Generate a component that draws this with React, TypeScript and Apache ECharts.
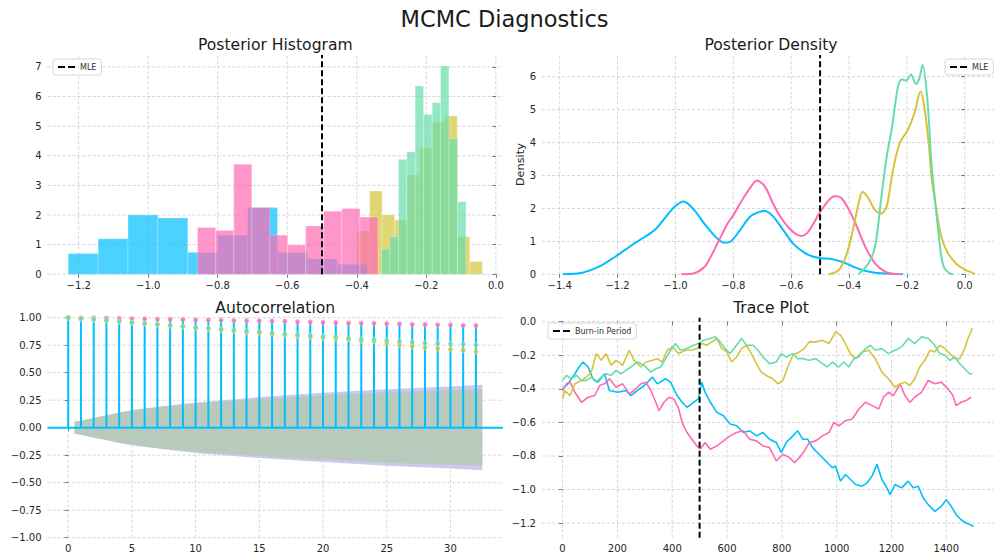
import React, { useEffect, useRef } from "react";
import * as echarts from "echarts";

// ---------------- DATA ----------------
// Posterior histogram (density-normalised), 10 bins per chain
const histBlueEdges = [-1.23, -1.144, -1.058, -0.972, -0.886, -0.8, -0.714, -0.628, -0.542, -0.456, -0.37];
const histBlueHeights = [0.7, 1.2, 2.0, 1.9, 0.74, 1.32, 2.25, 0.74, 0.52, 0.34];
const histPinkEdges = [-0.858, -0.806, -0.754, -0.702, -0.65, -0.599, -0.547, -0.495, -0.443, -0.391, -0.339];
const histPinkHeights = [1.58, 1.48, 3.71, 2.25, 1.32, 0.99, 1.63, 2.13, 2.22, 1.93];
const histYellowEdges = [-0.399, -0.363, -0.327, -0.291, -0.255, -0.219, -0.183, -0.147, -0.111, -0.075, -0.039];
const histYellowHeights = [1.46, 2.81, 2.0, 1.83, 3.35, 4.25, 5.14, 5.34, 1.27, 0.43];
const histGreenEdges = [-0.329, -0.305, -0.28, -0.256, -0.232, -0.208, -0.183, -0.159, -0.135, -0.11, -0.086];
const histGreenHeights = [0.85, 1.27, 3.88, 4.13, 6.35, 5.39, 5.79, 7.03, 4.58, 2.45];

// Posterior density (KDE) curves, [x, density]
const densBlue: [number, number][] = [
  [-1.389, 0], [-1.321, 0.05], [-1.264, 0.23], [-1.207, 0.54], [-1.15, 0.89], [-1.105, 1.14],
  [-1.071, 1.35], [-1.037, 1.7], [-1.003, 2.05], [-0.971, 2.21], [-0.935, 1.95], [-0.901, 1.55],
  [-0.867, 1.19], [-0.832, 0.96], [-0.81, 0.99], [-0.776, 1.35], [-0.742, 1.75], [-0.708, 1.9],
  [-0.691, 1.92], [-0.662, 1.75], [-0.628, 1.35], [-0.594, 0.94], [-0.56, 0.69], [-0.526, 0.54],
  [-0.492, 0.49], [-0.458, 0.46], [-0.424, 0.38], [-0.39, 0.25], [-0.356, 0.13], [-0.31, 0.05],
  [-0.242, 0.01], [-0.214, 0],
];
const densPink: [number, number][] = [
  [-0.98, 0], [-0.935, 0.03], [-0.9, 0.22], [-0.878, 0.53], [-0.849, 1.04], [-0.821, 1.52],
  [-0.798, 1.82], [-0.776, 2.16], [-0.742, 2.62], [-0.719, 2.85], [-0.691, 2.67], [-0.663, 2.16],
  [-0.634, 1.7], [-0.606, 1.39], [-0.583, 1.22], [-0.566, 1.16], [-0.545, 1.25], [-0.522, 1.55],
  [-0.503, 1.85], [-0.469, 2.26], [-0.447, 2.38], [-0.425, 2.3], [-0.4, 1.95], [-0.378, 1.55],
  [-0.344, 0.84], [-0.31, 0.33], [-0.276, 0.08], [-0.242, 0.01], [-0.22, 0],
];
const densYellow: [number, number][] = [
  [-0.469, 0], [-0.435, 0.13], [-0.407, 0.64], [-0.384, 1.45], [-0.367, 2.16], [-0.353, 2.51],
  [-0.333, 2.31], [-0.31, 1.95], [-0.288, 1.85], [-0.27, 2.05], [-0.248, 3.17], [-0.225, 3.98],
  [-0.197, 4.38], [-0.174, 4.89], [-0.153, 5.55], [-0.14, 5.1], [-0.125, 4.0], [-0.115, 2.96],
  [-0.098, 1.95], [-0.081, 1.14], [-0.058, 0.64], [-0.03, 0.33], [-0.002, 0.15], [0.026, 0.05], [0.035, 0],
];
const densGreen: [number, number][] = [
  [-0.367, 0], [-0.333, 0.33], [-0.31, 0.84], [-0.288, 2.36], [-0.27, 3.57], [-0.253, 4.38],
  [-0.24, 5.2], [-0.228, 5.8], [-0.217, 5.92], [-0.203, 5.88], [-0.186, 6.07], [-0.169, 5.78],
  [-0.157, 5.95], [-0.146, 6.36], [-0.13, 5.4], [-0.115, 3.37], [-0.104, 2.36], [-0.092, 1.35],
  [-0.081, 0.54], [-0.07, 0.18], [-0.052, 0.03], [-0.04, 0],
];

// Autocorrelation
const acfLags = [0, 1, 2, 3, 4, 5, 6, 7, 8, 9, 10, 11, 12, 13, 14, 15, 16, 17, 18, 19, 20, 21, 22, 23, 24, 25, 26, 27, 28, 29, 30, 31, 32];
const acfPink = [1.0, 0.999, 0.998, 0.996, 0.994, 0.991, 0.99, 0.986, 0.985, 0.984, 0.981, 0.979, 0.978, 0.975, 0.974, 0.973, 0.97, 0.968, 0.964, 0.962, 0.958, 0.957, 0.952, 0.951, 0.95, 0.946, 0.945, 0.94, 0.939, 0.936, 0.935, 0.93, 0.929];
const acfGreen = [1.0, 0.99, 0.985, 0.976, 0.969, 0.958, 0.949, 0.94, 0.931, 0.921, 0.911, 0.905, 0.896, 0.887, 0.879, 0.871, 0.862, 0.854, 0.846, 0.837, 0.83, 0.826, 0.814, 0.805, 0.799, 0.793, 0.784, 0.778, 0.771, 0.768, 0.762, 0.759, 0.753];
const acfYellow = [1.0, 0.989, 0.982, 0.972, 0.964, 0.954, 0.945, 0.936, 0.926, 0.916, 0.906, 0.898, 0.888, 0.879, 0.869, 0.861, 0.851, 0.842, 0.834, 0.825, 0.817, 0.808, 0.802, 0.787, 0.784, 0.771, 0.752, 0.741, 0.728, 0.72, 0.71, 0.704, 0.692];
const bandLags = [0.5, 1, 2, 3, 4, 5, 7, 10, 15, 20, 25, 30, 32.5];
const bandInnerUpper = [0.055, 0.062, 0.088, 0.11, 0.135, 0.155, 0.185, 0.22, 0.26, 0.293, 0.322, 0.34, 0.35];
const bandInnerLower = [-0.055, -0.062, -0.088, -0.11, -0.135, -0.155, -0.185, -0.22, -0.258, -0.29, -0.318, -0.336, -0.344];
const bandOuterUpper = [0.056, 0.063, 0.09, 0.113, 0.138, 0.16, 0.19, 0.23, 0.278, 0.318, 0.35, 0.375, 0.39];
const bandOuterLower = [-0.056, -0.063, -0.09, -0.113, -0.138, -0.16, -0.19, -0.23, -0.276, -0.312, -0.345, -0.372, -0.387];

// Trace plot, [iteration, value]
const traceBlue: [number, number][] = [
  [0, -0.4], [20, -0.37], [45, -0.31], [60, -0.27], [75, -0.24], [93, -0.27], [111, -0.34], [129, -0.36],
  [153, -0.31], [171, -0.41], [201, -0.42], [231, -0.41], [249, -0.44], [273, -0.41], [298, -0.38],
  [328, -0.33], [346, -0.37], [376, -0.34], [394, -0.36], [418, -0.44], [436, -0.48], [454, -0.51],
  [478, -0.48], [496, -0.46], [508, -0.36], [520, -0.42], [539, -0.48], [563, -0.54], [587, -0.56],
  [611, -0.61], [635, -0.62], [659, -0.66], [683, -0.65], [707, -0.68], [731, -0.66], [755, -0.7],
  [780, -0.72], [798, -0.78], [816, -0.72], [840, -0.68], [858, -0.65], [876, -0.7], [894, -0.7],
  [912, -0.75], [936, -0.79], [960, -0.83], [984, -0.87], [996, -0.86], [1014, -0.95], [1032, -0.91],
  [1044, -0.93], [1069, -0.97], [1093, -0.98], [1111, -0.96], [1129, -0.92], [1147, -0.85], [1165, -0.94],
  [1183, -0.99], [1195, -1.03], [1213, -0.97], [1237, -0.99], [1261, -0.95], [1279, -0.99], [1297, -0.98],
  [1316, -1.05], [1334, -1.09], [1358, -1.13], [1382, -1.1], [1400, -1.06], [1418, -1.1], [1436, -1.15],
  [1454, -1.18], [1472, -1.2], [1488, -1.21], [1499, -1.22],
];
const tracePink: [number, number][] = [
  [0, -0.41], [14, -0.37], [27, -0.36], [45, -0.42], [69, -0.48], [93, -0.45], [117, -0.44], [135, -0.38],
  [153, -0.37], [171, -0.34], [195, -0.39], [219, -0.37], [243, -0.43], [261, -0.41], [286, -0.37],
  [304, -0.36], [322, -0.41], [340, -0.48], [352, -0.53], [370, -0.48], [388, -0.45], [406, -0.46],
  [424, -0.52], [436, -0.6], [454, -0.66], [472, -0.7], [490, -0.74], [502, -0.76], [520, -0.72],
  [539, -0.76], [563, -0.74], [587, -0.71], [611, -0.68], [635, -0.66], [659, -0.65], [683, -0.7],
  [707, -0.71], [731, -0.74], [755, -0.75], [780, -0.83], [804, -0.79], [828, -0.81], [846, -0.84],
  [864, -0.81], [882, -0.77], [900, -0.72], [924, -0.71], [948, -0.68], [972, -0.66], [990, -0.6],
  [1008, -0.62], [1032, -0.59], [1057, -0.58], [1081, -0.52], [1105, -0.48], [1129, -0.5], [1153, -0.52],
  [1171, -0.45], [1189, -0.42], [1207, -0.44], [1231, -0.37], [1249, -0.44], [1267, -0.48], [1285, -0.45],
  [1310, -0.42], [1334, -0.35], [1358, -0.37], [1382, -0.36], [1406, -0.4], [1424, -0.44], [1436, -0.5],
  [1454, -0.48], [1472, -0.47], [1490, -0.45],
];
const traceYellow: [number, number][] = [
  [0, -0.46], [8, -0.41], [27, -0.44], [45, -0.37], [69, -0.35], [87, -0.33], [105, -0.3], [123, -0.19],
  [141, -0.23], [159, -0.19], [177, -0.26], [195, -0.23], [219, -0.26], [243, -0.17], [261, -0.23],
  [286, -0.27], [304, -0.24], [328, -0.23], [346, -0.22], [364, -0.24], [382, -0.17], [400, -0.15],
  [424, -0.19], [448, -0.17], [472, -0.17], [490, -0.16], [508, -0.13], [526, -0.14], [545, -0.12],
  [563, -0.1], [581, -0.16], [599, -0.18], [617, -0.24], [635, -0.21], [653, -0.16], [671, -0.14],
  [689, -0.19], [707, -0.25], [725, -0.3], [743, -0.32], [767, -0.34], [786, -0.37], [804, -0.35],
  [822, -0.27], [840, -0.2], [864, -0.18], [882, -0.16], [900, -0.12], [924, -0.12], [948, -0.11],
  [972, -0.13], [996, -0.06], [1014, -0.08], [1032, -0.13], [1050, -0.19], [1069, -0.22], [1093, -0.18],
  [1117, -0.17], [1141, -0.22], [1165, -0.3], [1189, -0.34], [1213, -0.39], [1231, -0.37], [1249, -0.36],
  [1267, -0.38], [1285, -0.34], [1303, -0.27], [1322, -0.23], [1340, -0.17], [1358, -0.18], [1376, -0.14],
  [1395, -0.16], [1413, -0.19], [1431, -0.22], [1449, -0.22], [1467, -0.16], [1479, -0.1], [1495, -0.04],
];
const traceGreen: [number, number][] = [
  [0, -0.35], [14, -0.32], [33, -0.34], [51, -0.32], [69, -0.35], [87, -0.35], [105, -0.33], [123, -0.36],
  [141, -0.33], [159, -0.31], [177, -0.32], [195, -0.29], [213, -0.31], [231, -0.29], [249, -0.27],
  [273, -0.24], [298, -0.26], [322, -0.3], [340, -0.28], [358, -0.27], [376, -0.22], [394, -0.17],
  [412, -0.13], [430, -0.17], [454, -0.16], [478, -0.14], [496, -0.13], [514, -0.11], [539, -0.1],
  [557, -0.09], [575, -0.12], [593, -0.16], [611, -0.19], [635, -0.14], [653, -0.1], [671, -0.14],
  [695, -0.14], [713, -0.17], [731, -0.21], [755, -0.25], [780, -0.24], [798, -0.19], [816, -0.21],
  [840, -0.19], [858, -0.22], [876, -0.22], [900, -0.23], [924, -0.22], [948, -0.25], [966, -0.27],
  [984, -0.24], [1008, -0.27], [1026, -0.24], [1044, -0.27], [1063, -0.22], [1081, -0.21], [1105, -0.16],
  [1123, -0.14], [1141, -0.17], [1165, -0.16], [1189, -0.19], [1213, -0.17], [1237, -0.15], [1261, -0.1],
  [1285, -0.13], [1310, -0.09], [1334, -0.1], [1358, -0.14], [1376, -0.19], [1395, -0.2], [1413, -0.23],
  [1431, -0.21], [1449, -0.25], [1467, -0.28], [1485, -0.31], [1495, -0.31],
];

const mleValue = -0.5;
const burnIn = 500;

// Tick values
const histXTicks = [-1.2, -1.0, -0.8, -0.6, -0.4, -0.2, 0.0];
const histYTicks = [0, 1, 2, 3, 4, 5, 6, 7];
const densXTicks = [-1.4, -1.2, -1.0, -0.8, -0.6, -0.4, -0.2, 0.0];
const densYTicks = [0, 1, 2, 3, 4, 5, 6];
const acfXTicks = [0, 5, 10, 15, 20, 25, 30];
const acfYTicks = [-1.0, -0.75, -0.5, -0.25, 0.0, 0.25, 0.5, 0.75, 1.0];
const traceXTicks = [0, 200, 400, 600, 800, 1000, 1200, 1400];
const traceYTicks = [-1.2, -1.0, -0.8, -0.6, -0.4, -0.2, 0.0];

// Axis limits
const histX = [-1.2896, 0.0206];
const histY = [0, 7.4];
const densX = [-1.461, 0.101];
const densY = [0, 6.66];
const acfX = [-1.625, 34.125];
const acfY = [-1.0, 1.0];
const traceX = [-75, 1574];
const traceY = [-1.287, 0.024];

// ---------------- STYLE ----------------
const FONT = "DejaVu Sans";
const BLUE = "#00BFFF";
const PINK = "#FF69B4";
const YELLOW = "#D4C43C";
const GREEN = "#66DDAA";
const TEXT = "#262626";

const mfmt = (d: number) => (v: number) => {
  const s = Math.abs(v) < 1e-9 ? (0).toFixed(d) : v.toFixed(d);
  return s.replace("-", "\u2212");
};

function xAxis(g: number, lim: number[], ticks: number[], fmt: (v: number) => string) {
  return {
    type: "value",
    gridIndex: g,
    min: lim[0],
    max: lim[1],
    axisLine: { show: false },
    axisTick: { show: true, customValues: ticks, length: 3.5, lineStyle: { color: "#555", width: 0.8 } },
    axisLabel: { customValues: ticks, formatter: fmt, margin: 6, fontSize: 10, color: TEXT, fontFamily: FONT },
    splitLine: { show: false },
  };
}
function yAxis(g: number, lim: number[], ticks: number[], fmt: (v: number) => string, extra: any = {}) {
  return {
    type: "value",
    gridIndex: g,
    min: lim[0],
    max: lim[1],
    axisLine: { show: false },
    axisTick: { show: true, customValues: ticks, length: 3.5, lineStyle: { color: "#555", width: 0.8 } },
    axisLabel: { customValues: ticks, formatter: fmt, margin: 6, fontSize: 10, color: TEXT, fontFamily: FONT },
    splitLine: { show: false },
    ...extra,
  };
}

const GRID_STYLE = { stroke: "#cccccc", lineWidth: 0.8, lineDash: [3, 2] };

function gridSeries(g: number, xt: number[], yt: number[], xl: number[], yl: number[]) {
  return [
    {
      type: "custom",
      xAxisIndex: g,
      yAxisIndex: g,
      silent: true,
      z: 0,
      data: xt.map((v) => [v, yl[0]]),
      renderItem: (_p: any, api: any) => {
        const a = api.coord([api.value(0), yl[0]]);
        const b = api.coord([api.value(0), yl[1]]);
        return { type: "line", shape: { x1: a[0], y1: a[1], x2: b[0], y2: b[1] }, style: GRID_STYLE };
      },
    },
    {
      type: "custom",
      xAxisIndex: g,
      yAxisIndex: g,
      silent: true,
      z: 0,
      data: yt.map((v) => [xl[0], v]),
      renderItem: (_p: any, api: any) => {
        const a = api.coord([xl[0], api.value(1)]);
        const b = api.coord([xl[1], api.value(1)]);
        return { type: "line", shape: { x1: a[0], y1: a[1], x2: b[0], y2: b[1] }, style: GRID_STYLE };
      },
    },
  ];
}

function histSeries(edges: number[], heights: number[], color: string, z: number) {
  return {
    type: "custom",
    xAxisIndex: 0,
    yAxisIndex: 0,
    z,
    silent: true,
    data: heights.map((h, i) => [edges[i], edges[i + 1], h]),
    encode: { x: [0, 1], y: 2 },
    renderItem: (_p: any, api: any) => {
      const a = api.coord([api.value(0), api.value(2)]);
      const b = api.coord([api.value(1), 0]);
      return {
        type: "rect",
        shape: { x: a[0], y: a[1], width: b[0] - a[0], height: b[1] - a[1] },
        style: { fill: color, opacity: 0.7, stroke: "rgba(255,255,255,0.7)", lineWidth: 0.5 },
      };
    },
  };
}

function bandSeries(upper: number[], lower: number[], color: string, z: number) {
  return {
    type: "custom",
    xAxisIndex: 2,
    yAxisIndex: 2,
    silent: true,
    z,
    data: [[bandLags[0], 0]],
    renderItem: (_p: any, api: any) => {
      const pts: number[][] = [];
      for (let i = 0; i < bandLags.length; i++) pts.push(api.coord([bandLags[i], upper[i]]));
      for (let i = bandLags.length - 1; i >= 0; i--) pts.push(api.coord([bandLags[i], lower[i]]));
      return { type: "polygon", shape: { points: pts }, style: { fill: color } };
    },
  };
}

function densSeries(data: [number, number][], color: string) {
  return {
    type: "line",
    xAxisIndex: 1,
    yAxisIndex: 1,
    data,
    smooth: 0.3,
    symbol: "none",
    lineStyle: { color, width: 2 },
    itemStyle: { color },
    z: 3,
  };
}

function traceSeries(data: [number, number][], color: string) {
  return {
    type: "line",
    xAxisIndex: 3,
    yAxisIndex: 3,
    data,
    symbol: "none",
    lineStyle: { color, width: 1.6 },
    itemStyle: { color },
    z: 3,
  };
}

function acfMarkers(vals: number[], color: string, z: number) {
  return {
    type: "scatter",
    xAxisIndex: 2,
    yAxisIndex: 2,
    data: acfLags.map((l, i) => [l, vals[i]]),
    symbolSize: 5,
    itemStyle: { color, borderColor: "rgba(255,255,255,0.6)", borderWidth: 0.5 },
    z,
  };
}

const DASH_ICON = "path://M0,0h7v2h-7z M10,0h7v2h-7z";
function legendOpt(name: string, left: number, top: number) {
  return {
    data: [name],
    left,
    top,
    orient: "horizontal",
    icon: DASH_ICON,
    itemWidth: 17,
    itemHeight: 2,
    padding: [4, 5, 4, 5],
    borderColor: "#d6d6d6",
    borderWidth: 1,
    borderRadius: 3,
    backgroundColor: "rgba(255,255,255,0.85)",
    selectedMode: false,
    textStyle: { fontSize: 8, color: "#333", fontFamily: FONT },
  };
}

function vline(name: string, g: number, x: number, yl: number[]) {
  return {
    type: "line",
    name,
    xAxisIndex: g,
    yAxisIndex: g,
    data: [[x, yl[0]], [x, yl[1]]],
    symbol: "none",
    lineStyle: { color: "#000", width: 2, type: [6, 3] },
    itemStyle: { color: "#000" },
    z: 10,
  };
}

function titleText(text: string, x: number, y: number, size: number) {
  return {
    type: "text",
    x,
    y,
    silent: true,
    style: {
      text,
      fill: "#1a1a1a",
      fontSize: size,
      fontFamily: FONT,
      align: "center",
      verticalAlign: "middle",
      textAlign: "center",
      textVerticalAlign: "middle",
    },
  };
}

export default function App() {
  const ref = useRef<HTMLDivElement>(null);
  useEffect(() => {
    if (!ref.current) return;
    const chart = echarts.init(ref.current, undefined, { renderer: "svg" });
    const option: any = {
      animation: false,
      textStyle: { fontFamily: FONT },
      grid: [
        { left: 47.5, top: 55, width: 455.5, height: 219.3 },
        { left: 542, top: 55, width: 459, height: 219.3 },
        { left: 47.5, top: 317.7, width: 455.5, height: 220 },
        { left: 542, top: 317.7, width: 459, height: 220 },
      ],
      xAxis: [
        xAxis(0, histX, histXTicks, mfmt(1)),
        xAxis(1, densX, densXTicks, mfmt(1)),
        xAxis(2, acfX, acfXTicks, mfmt(0)),
        xAxis(3, traceX, traceXTicks, mfmt(0)),
      ],
      yAxis: [
        yAxis(0, histY, histYTicks, mfmt(0)),
        yAxis(1, densY, densYTicks, mfmt(0), {
          name: "Density",
          nameLocation: "middle",
          nameGap: 14,
          nameTextStyle: { fontSize: 11.3, color: TEXT, fontFamily: FONT },
        }),
        yAxis(2, acfY, acfYTicks, mfmt(2)),
        yAxis(3, traceY, traceYTicks, mfmt(1)),
      ],
      legend: [
        legendOpt("MLE", 53, 59),
        legendOpt("MLE", 945, 59),
        legendOpt("Burn-in Period", 548, 323),
      ],
      graphic: [
        titleText("MCMC Diagnostics", 504.5, 19, 22.5),
        titleText("Posterior Histogram", 275.3, 45, 15.6),
        titleText("Posterior Density", 771, 45, 15.6),
        titleText("Autocorrelation", 275.3, 308, 15.6),
        titleText("Trace Plot", 771, 308, 15.6),
      ],
      series: [
        ...gridSeries(0, histXTicks, histYTicks, histX, histY),
        ...gridSeries(1, densXTicks, densYTicks, densX, densY),
        ...gridSeries(2, acfXTicks, acfYTicks, acfX, acfY),
        ...gridSeries(3, traceXTicks, traceYTicks, traceX, traceY),
        // histogram
        histSeries(histYellowEdges, histYellowHeights, YELLOW, 2),
        histSeries(histBlueEdges, histBlueHeights, BLUE, 3),
        histSeries(histPinkEdges, histPinkHeights, PINK, 4),
        histSeries(histGreenEdges, histGreenHeights, GREEN, 5),
        vline("MLE", 0, mleValue, histY),
        // density
        densSeries(densBlue, BLUE),
        densSeries(densPink, PINK),
        densSeries(densYellow, YELLOW),
        densSeries(densGreen, GREEN),
        vline("MLE", 1, mleValue, densY),
        // autocorrelation
        bandSeries(bandOuterUpper, bandOuterLower, "#cdc9ec", 1),
        bandSeries(bandInnerUpper, bandInnerLower, "#b7cabc", 1),
        {
          type: "custom",
          xAxisIndex: 2,
          yAxisIndex: 2,
          silent: true,
          z: 3,
          data: acfLags.map((l, i) => [l, acfPink[i]]),
          renderItem: (_p: any, api: any) => {
            const a = api.coord([api.value(0), 0]);
            const b = api.coord([api.value(0), api.value(1)]);
            return { type: "line", shape: { x1: a[0], y1: a[1], x2: b[0], y2: b[1] }, style: { stroke: BLUE, lineWidth: 2 } };
          },
        },
        {
          type: "line",
          xAxisIndex: 2,
          yAxisIndex: 2,
          data: [[acfX[0], 0], [acfX[1], 0]],
          symbol: "none",
          lineStyle: { color: BLUE, width: 2 },
          z: 3,
        },
        acfMarkers(acfPink, PINK, 4),
        acfMarkers(acfYellow, YELLOW, 5),
        acfMarkers(acfGreen, GREEN, 6),
        // trace
        traceSeries(traceBlue, BLUE),
        traceSeries(tracePink, PINK),
        traceSeries(traceYellow, YELLOW),
        traceSeries(traceGreen, GREEN),
        vline("Burn-in Period", 3, burnIn, traceY),
      ],
    };
    chart.setOption(option);
    return () => chart.dispose();
  }, []);
  return (
    <div
      ref={ref}
      style={{ position: "absolute", left: 0, top: 0, width: 994, height: 557, background: "#fff" }}
    />
  );
}
